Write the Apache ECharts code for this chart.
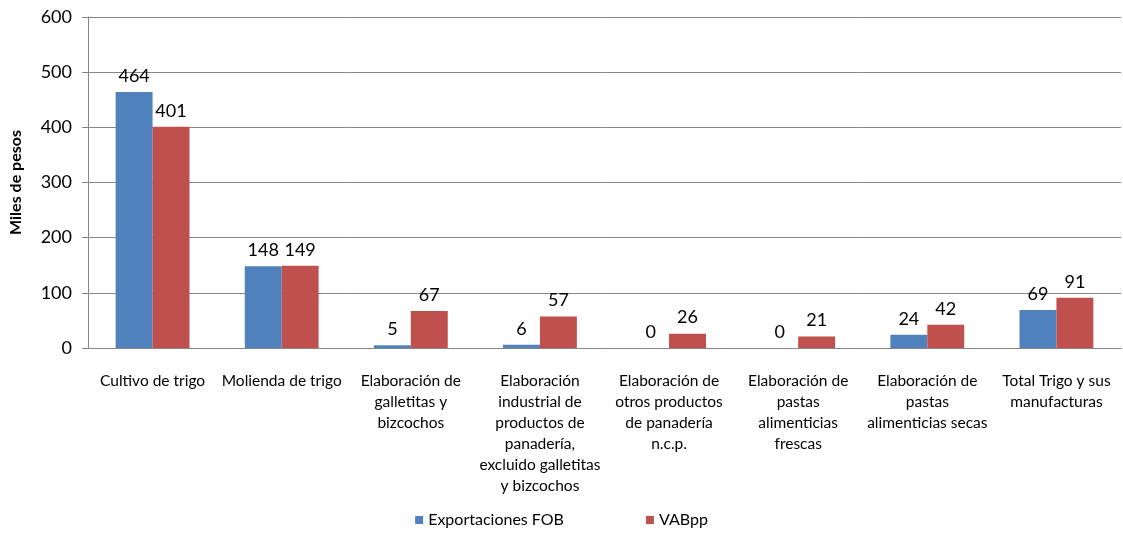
<!DOCTYPE html>
<html><head><meta charset="utf-8">
<script src="https://cdn.jsdelivr.net/npm/echarts@6/dist/echarts.min.js"></script>
<style>html,body{margin:0;padding:0;background:#fff}#c{width:1123px;height:535px}</style>
</head><body><div id="c"></div>
<script>
const categories = [
  "Cultivo de trigo",
  "Molienda de trigo",
  "Elaboración de\ngalletitas y\nbizcochos",
  "Elaboración\nindustrial de\nproductos de\npanadería,\nexcluido galletitas\ny bizcochos",
  "Elaboración de\notros productos\nde panadería\nn.c.p.",
  "Elaboración de\npastas\nalimenticias\nfrescas",
  "Elaboración de\npastas\nalimenticias secas",
  "Total Trigo y sus\nmanufacturas"
];
const exportacionesFOB = [464, 148, 5, 6, 0, 0, 24, 69];
const vabpp = [401, 149, 67, 57, 26, 21, 42, 91];
const yTicks = {min: 0, max: 600, interval: 100};

const font = "Lato, 'Open Sans', sans-serif";
const chart = echarts.init(document.getElementById('c'));
const lbl = {show: true, position: 'top', distance: 7, fontSize: 18, color: '#000', fontFamily: font};
chart.setOption({
  animation: false,
  grid: {left: 87, right: 2, top: 17, bottom: 187},
  legend: {
    bottom: 2, left: 'center', itemWidth: 8, itemHeight: 8, itemGap: 82,
    icon: 'rect',
    textStyle: {fontSize: 16, fontFamily: font, color: '#000'},
    data: ['Exportaciones FOB', 'VABpp']
  },
  xAxis: {
    type: 'category', data: categories,
    axisLine: {lineStyle: {color: '#868686'}},
    axisTick: {length: 6, lineStyle: {color: '#868686'}},
    axisLabel: {interval: 0, fontSize: 15.5, lineHeight: 21, color: '#000', fontFamily: font, margin: 22}
  },
  yAxis: {
    type: 'value', min: yTicks.min, max: yTicks.max, interval: yTicks.interval,
    name: 'Miles de pesos', nameLocation: 'middle', nameGap: 64,
    nameTextStyle: {fontSize: 16, fontWeight: 'bold', color: '#000', fontFamily: font},
    axisLine: {show: true, lineStyle: {color: '#868686'}},
    axisTick: {show: true, length: 6, lineStyle: {color: '#868686'}},
    splitLine: {lineStyle: {color: '#868686'}},
    axisLabel: {fontSize: 18, color: '#000', fontFamily: font, margin: 16}
  },
  series: [
    {name: 'Exportaciones FOB', type: 'bar', data: exportacionesFOB, barWidth: '28.6%', barGap: '0%',
     itemStyle: {color: '#4F81BD'}, label: lbl},
    {name: 'VABpp', type: 'bar', data: vabpp, barWidth: '28.6%',
     itemStyle: {color: '#C0504D'}, label: lbl}
  ]
});
</script></body></html>
